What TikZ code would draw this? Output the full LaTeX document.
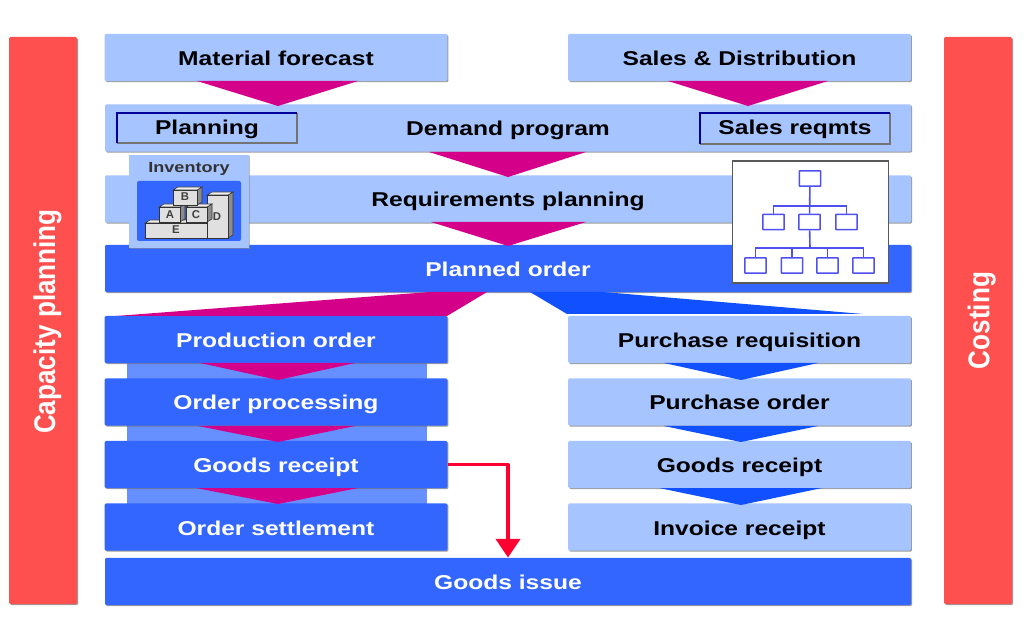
\documentclass[tikz,border=0pt]{standalone}
\usepackage{fontspec}
\setmainfont{Liberation Sans}
\newfontfamily\barfont[FakeStretch=1.23]{Liberation Sans}
\newfontfamily\sidefont[FakeStretch=.87]{Liberation Sans}
\usetikzlibrary{shadows,arrows.meta}
\definecolor{lightbar}{HTML}{A6C4FF}
\definecolor{darkbar}{HTML}{3366FF}
\definecolor{stripbar}{HTML}{6690FF}
\definecolor{pinktri}{HTML}{D5008A}
\definecolor{bluetri}{HTML}{1050FF}
\definecolor{redbar}{HTML}{FF5050}
\definecolor{orgline}{HTML}{5050F0}
\definecolor{arrowred}{HTML}{FF0030}
\tikzset{
	bar/.style={inner sep=0pt, rounded corners=1pt, text height=13.5pt, text depth=1.5pt,
		font=\fontsize{15}{18}\barfont\bfseries,
		drop shadow={shadow xshift=.8pt, shadow yshift=-.8pt, fill=black!55, opacity=.7}},
	lightbox/.style={bar, fill=lightbar, text=black},
	darkbox/.style={bar, fill=darkbar, text=white},
	sidebar/.style={inner sep=0pt, rounded corners=1pt, fill=redbar, text=white, minimum width=51pt, minimum height=425.25pt,
		font=\fontsize{22.5}{26}\sidefont\bfseries,
		drop shadow={shadow xshift=.8pt, shadow yshift=-.8pt, fill=black!55, opacity=.7}},
	halfbar/.style={minimum width=257pt, minimum height=35.5pt},
	fullbar/.style={minimum width=604.5pt, minimum height=35.5pt},
	framebox/.style={inner sep=0pt, font=\fontsize{15}{18}\barfont\bfseries, minimum height=22.5pt,
		text height=11pt, text depth=1.9pt},
	orgbox/.style={draw=orgline, line width=1.2pt, fill=white, rounded corners=.5pt,
		minimum width=16pt, minimum height=11.5pt, inner sep=0pt},
	orgedge/.style={draw=orgline, line width=1.2pt},
	block/.style={draw=black!80, line width=.4pt, fill=black!12},
	blockside/.style={draw=black!80, line width=.4pt, fill=black!45},
	blockname/.style={inner sep=0pt, text=black!75, font=\fontsize{8.5}{9}\selectfont\bfseries}
}
\begin{document}
\begin{tikzpicture}[x=.75pt, y=-.75pt]
	\useasboundingbox (0,0) rectangle (1024,630);
	\fill[white] (0,0) rectangle (1024,630);
	% side bars
	\node[sidebar] (capacity) at (43,320.5) {\rotatebox{90}{\smash{\raisebox{-9pt}{Capacity planning\hspace{1.5pt}}}}};
	\node[sidebar] (costing) at (978,320.5) {\rotatebox{90}{\smash{\raisebox{-8.5pt}{Costing}}}};
	% strip behind the production column
	\fill[stripbar] (127,360) rectangle (427,505);
	% top rows
	\node[lightbox, halfbar] (forecast) at (276,57.5) {Material forecast};
	\node[lightbox, halfbar] (sales) at (739.5,57.5) {Sales \& Distribution};
	\node[lightbox, fullbar] (demand) at (508,128) {Demand program};
	\node[lightbox, fullbar] (reqplan) at (508,199) {Requirements planning};
	\node[darkbox, fullbar] (planned) at (508,268.5) {Planned order};
	% columns
	\foreach \n/\y/\t in {prod/339.5/Production order, proc/402/Order processing, grleft/464.5/Goods receipt, settle/527/Order settlement}
		\node[darkbox, halfbar] (\n) at (276,\y) {\t};
	\foreach \n/\y/\t in {requis/339.5/Purchase requisition, purch/402/Purchase order, grright/464.5/Goods receipt, invoice/527/Invoice receipt}
		\node[lightbox, halfbar] (\n) at (739.5,\y) {\t};
	\node[darkbox, fullbar] (issue) at (508,581.5) {Goods issue};
	% framed labels
	\node[framebox, minimum width=135pt] (planning) at (207,128) {Planning};
	\node[framebox, minimum width=142.5pt] (reqmts) at (795,128.5) {Sales reqmts};
	\foreach \b in {planning,reqmts} {
		\draw[black!55, line width=1.3pt] (\b.north east) -- (\b.south east) -- (\b.south west);
		\draw[blue!60!black, line width=1.3pt] (\b.south west) -- (\b.north west) -- (\b.north east);
	}
	% triangles
	\foreach \l/\r/\a/\t/\b in {197/358/278/81/106, 668/828/748/81/106, 429/586/508/152/177, 431/586/508/222/246,
			200/355/278/363/380, 198/355/278/426/442, 196/358/278/488/504}
		\fill[pinktri] (\l,\t) -- (\r,\t) -- (\a,\b) -- cycle;
	\foreach \l/\r/\a/\t/\b in {664/818/741/363/380, 664/818/741/426/442, 659/822/741/488/505}
		\fill[bluetri] (\l,\t) -- (\r,\t) -- (\a,\b) -- cycle;
	\fill[pinktri] (116,316) -- (430,292) -- (487,292) -- (447,316) -- cycle;
	\fill[bluetri] (530,292) -- (603,292) -- (863,314) -- (567,314) -- cycle;
	% inventory
	\node[fill=lightbar, inner sep=0pt, minimum width=90pt, minimum height=70pt,
		drop shadow={shadow xshift=.6pt, shadow yshift=-.6pt, fill=black!45, opacity=.6}] (inventory) at (189,201.5) {};
	\node[inner sep=0pt, font=\fontsize{11}{12}\barfont\bfseries, text=black!80] (invlabel) at (189,169) {Inventory};
	\fill[darkbar, rounded corners=1.5pt] (137,181) rectangle (241,241);
	\foreach \x/\y/\X/\Y in {145/223/207/238, 207/195/228/238, 159/207/180/222, 186/207/207/222, 173/190/197/205} {
		\draw[blockside] (\X,\Y) -- (\X+5,\Y-3) -- (\X+5,\y-3) -- (\X,\y) -- cycle;
		\draw[block, fill=black!6] (\x,\y) -- (\x+5,\y-3) -- (\X+5,\y-3) -- (\X,\y) -- cycle;
		\draw[block] (\x,\y) rectangle (\X,\Y);
	}
	\foreach \n/\x/\y in {A/170/215, B/185/197, C/196/215, D/217/217, E/176/230}
		\node[blockname] (block\n) at (\x,\y) {\n};
	% organisation chart
	\node[draw=black!65, line width=1.4pt, fill=white, inner sep=0pt, minimum width=117pt, minimum height=91pt] (orgchart) at (810.5,222) {};
	\node[orgbox] (top) at (810,178.5) {};
	\foreach \n/\x in {midl/773.5, midc/809.5, midr/846.5}
		\node[orgbox] (\n) at (\x,222) {};
	\foreach \n/\x in {lowa/755.5, lowb/792, lowc/827.5, lowd/863.5}
		\node[orgbox] (\n) at (\x,265.5) {};
	\coordinate (midbus) at (810,206);
	\coordinate (lowbus) at (810,248);
	\draw[orgedge] (top) -- (midc);
	\draw[orgedge] (midc) -- (lowbus);
	\foreach \n in {midl,midr}
		\draw[orgedge] (midbus) -| (\n);
	\foreach \n in {lowa,lowb,lowc,lowd}
		\draw[orgedge] (lowbus) -| (\n);
	% link to goods issue
	\draw[arrowred, line width=2.8pt, -{Triangle[width=18pt,length=14pt]}, line join=round] (grleft.east) -| (issue.north);
\end{tikzpicture}
\end{document}
